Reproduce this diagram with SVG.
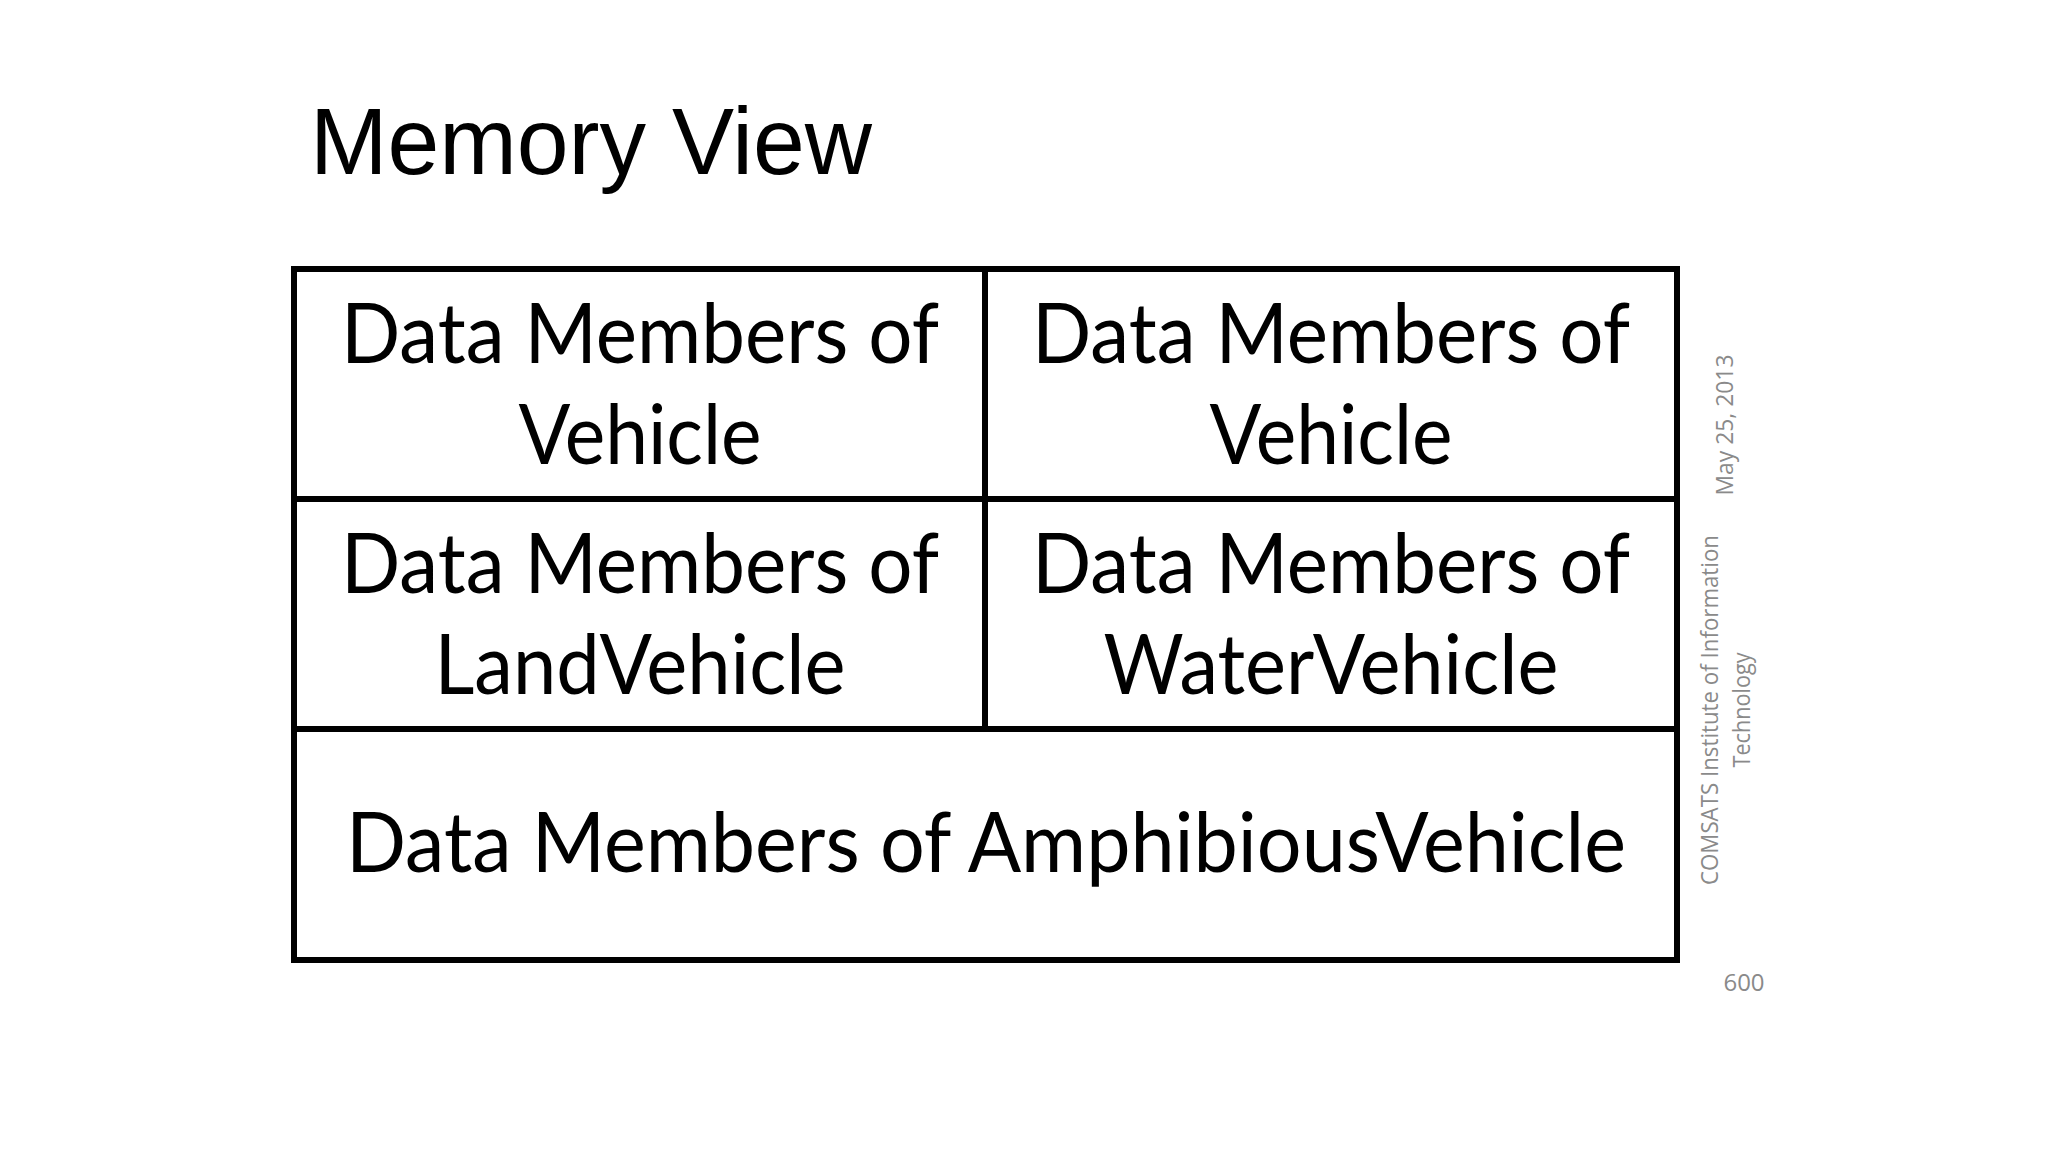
<svg xmlns="http://www.w3.org/2000/svg" width="2048" height="1152" viewBox="0 0 2048 1152">
<style>
.cell{fill:#fff;stroke:#000;stroke-width:6}
.t{font-family:Lato,"Open Sans","Liberation Sans",sans-serif;font-size:84px;fill:#000;text-anchor:middle}
.side{font-family:"Open Sans","Liberation Sans",sans-serif;font-size:24px;fill:#8a8a8a;text-anchor:middle}
.title{font-family:"Liberation Sans",Arial,sans-serif;font-size:94px;fill:#000}
</style>
<rect width="2048" height="1152" fill="#fff"/>
<text class="title" x="310" y="174" textLength="562" lengthAdjust="spacingAndGlyphs">Memory View</text>
<g id="vehicle1">
<rect class="cell" x="294" y="269" width="691" height="230"/>
<text class="t" x="640" y="363" textLength="598" lengthAdjust="spacingAndGlyphs">Data Members of</text>
<text class="t" x="640" y="464" textLength="243" lengthAdjust="spacingAndGlyphs">Vehicle</text>
</g>
<g id="vehicle2">
<rect class="cell" x="985" y="269" width="692" height="230"/>
<text class="t" x="1331" y="363" textLength="598" lengthAdjust="spacingAndGlyphs">Data Members of</text>
<text class="t" x="1331" y="464" textLength="243" lengthAdjust="spacingAndGlyphs">Vehicle</text>
</g>
<g id="landvehicle">
<rect class="cell" x="294" y="499" width="691" height="230"/>
<text class="t" x="640" y="593" textLength="598" lengthAdjust="spacingAndGlyphs">Data Members of</text>
<text class="t" x="640" y="694" textLength="411" lengthAdjust="spacingAndGlyphs">LandVehicle</text>
</g>
<g id="watervehicle">
<rect class="cell" x="985" y="499" width="692" height="230"/>
<text class="t" x="1331" y="593" textLength="598" lengthAdjust="spacingAndGlyphs">Data Members of</text>
<text class="t" x="1331" y="694" textLength="455" lengthAdjust="spacingAndGlyphs">WaterVehicle</text>
</g>
<g id="amphibiousvehicle">
<rect class="cell" x="294" y="729" width="1383" height="231"/>
<text class="t" x="986" y="872" textLength="1280" lengthAdjust="spacingAndGlyphs">Data Members of AmphibiousVehicle</text>
</g>
<g id="connectors"/>
<g id="footer">
<text class="side" transform="translate(1733,425) rotate(-90)" textLength="141" lengthAdjust="spacingAndGlyphs">May 25, 2013</text>
<text class="side" transform="translate(1718,710) rotate(-90)" textLength="350" lengthAdjust="spacingAndGlyphs">COMSATS Institute of Information</text>
<text class="side" transform="translate(1750,710) rotate(-90)" textLength="115" lengthAdjust="spacingAndGlyphs">Technology</text>
<text class="side" x="1744" y="991">600</text>
</g>
</svg>
